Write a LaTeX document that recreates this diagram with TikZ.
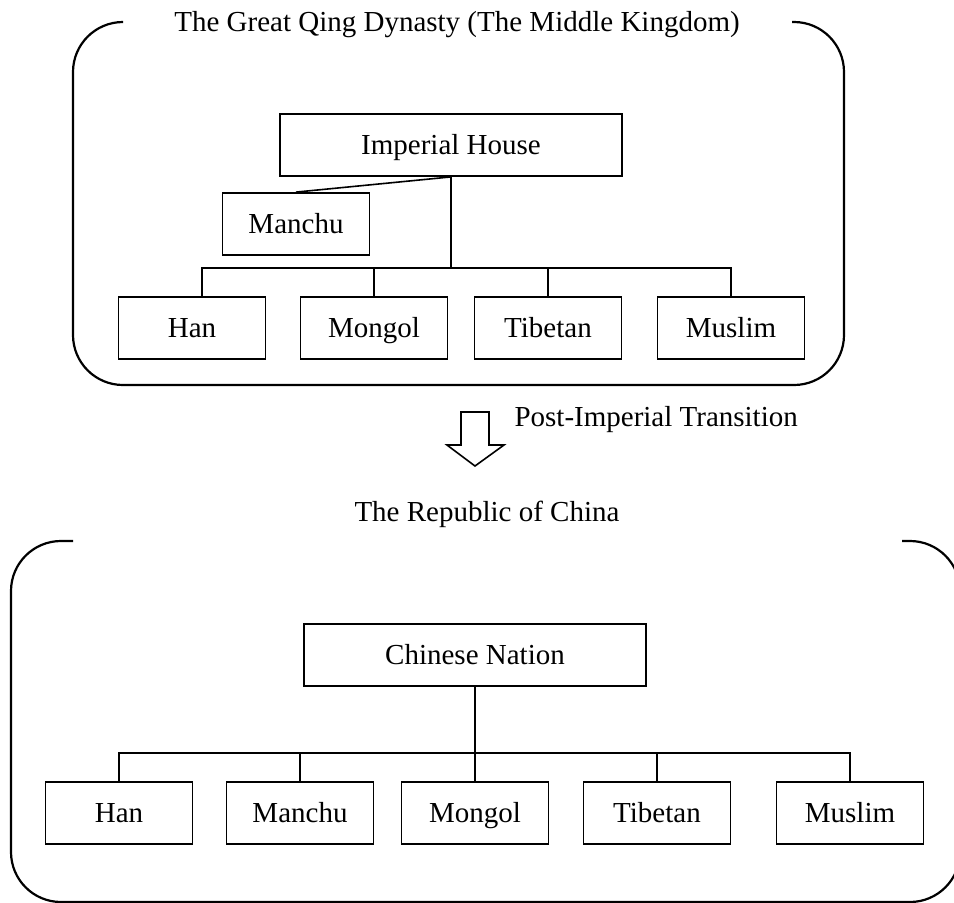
\documentclass[tikz,border=0pt]{standalone}
\usepackage{fontspec}
\setmainfont{Liberation Serif}
\begin{document}
\begin{tikzpicture}[x=1pt, y=-1pt,
  box/.style={draw, line width=1.8pt, minimum height=62pt, inner sep=0pt, text height=19pt, text depth=0pt, font=\fontsize{29}{34}\selectfont},
  wide/.style={box, minimum width=342pt},
  group/.style={box, minimum width=147pt},
  frame/.style={line width=2.2pt, rounded corners=50pt},
  link/.style={line width=1.6pt},
  caption/.style={font=\fontsize{29}{34}\selectfont}]
  \useasboundingbox (0,0) rectangle (954,903);

  % Qing frame, open at the top for its title
  \draw[frame] (122,22) -- (73,22) -- (73,385) -- (844,385) -- (844,22) -- (792,22);
  \node[caption, anchor=base] (qing) at (457,31) {The Great Qing Dynasty (The Middle Kingdom)};

  % Qing boxes
  \node[wide] (house) at (451,145) {Imperial House};
  \node[group] (manchu1) at (296,224) {Manchu};
  \node[group] (han1) at (192,328) {Han};
  \node[group] (mongol1) at (374,328) {Mongol};
  \node[group] (tibet1) at (548,328) {Tibetan};
  \node[group] (muslim1) at (731,328) {Muslim};

  % Qing connectors
  \coordinate (bus1) at (451,268);
  \draw[link] (house.south) -- (manchu1.north);
  \draw[link] (house.south) -- (bus1);
  \draw[link] ([xshift=10pt]han1.north) |- (bus1) -| (muslim1.north);
  \draw[link] (mongol1.north) -- (mongol1.north |- bus1);
  \draw[link] (tibet1.north) -- (tibet1.north |- bus1);

  % Transition arrow
  \draw[line width=1.6pt] (461,412) -- (489,412) -- (489,445) -- (504,445) -- (475,466)
    -- (447,445) -- (461,445) -- cycle;
  \node[caption, anchor=west] (transition) at (511,420) {Post-Imperial Transition};

  % Republic frame, open at the top for its title
  \draw[frame] (73,541) -- (11,541) -- (11,902) -- (960,902) -- (960,541) -- (902,541);
  \node[caption, anchor=base] (roc) at (487,521) {The Republic of China};

  % Republic boxes
  \node[wide] (nation) at (475,655) {Chinese Nation};
  \node[group] (han2) at (119,813) {Han};
  \node[group] (manchu2) at (300,813) {Manchu};
  \node[group] (mongol2) at (475,813) {Mongol};
  \node[group] (tibet2) at (657,813) {Tibetan};
  \node[group] (muslim2) at (850,813) {Muslim};

  % Republic connectors
  \coordinate (bus2) at (475,753);
  \draw[link] (nation.south) -- (mongol2.north);
  \draw[link] (han2.north) |- (bus2) -| (muslim2.north);
  \draw[link] (manchu2.north) -- (manchu2.north |- bus2);
  \draw[link] (tibet2.north) -- (tibet2.north |- bus2);
\end{tikzpicture}
\end{document}
